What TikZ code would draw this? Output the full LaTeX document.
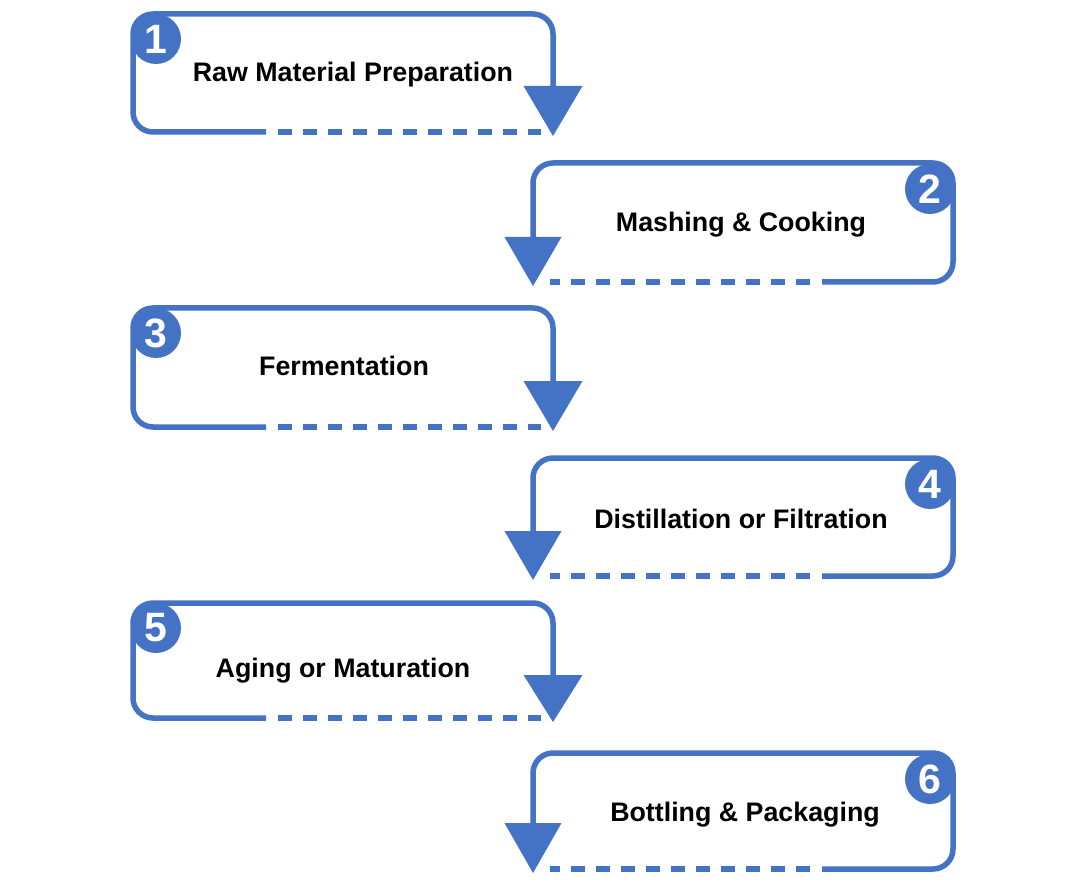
\documentclass[tikz,border=0pt]{standalone}
\usepackage{fontspec}
\setmainfont{Liberation Sans}
\definecolor{stepblue}{RGB}{68,114,196}
\tikzset{
  frame/.style={line width=5.5pt, draw=stepblue, rounded corners=20pt},
  dashpart/.style={line width=5.5pt, draw=stepblue, dash pattern=on 14pt off 11pt},
  headtri/.style={fill=stepblue, draw=none},
  badge/.style={circle, fill=stepblue, minimum size=50pt, inner sep=0pt, text=white,
    font=\fontsize{41}{41}\selectfont\bfseries},
  steptext/.style={anchor=base, inner sep=0pt, text=black,
    font=\fontsize{26.8}{30}\selectfont\bfseries}
}
% #1 name, #2 top, #3 bottom, #4 arrow base, #5 number, #6 text x, #7 text baseline, #8 text
\newcommand\stepLeft[8]{%
  \draw[frame] (266,#3) -- (133,#3) -- (133,#2) -- (553,#2) -- (553,#4);
  \draw[dashpart] (278,#3) -- (541,#3);
  \fill[headtri] (523.5,#4) -- (582.5,#4) -- (553,{#3+4}) -- cycle;
  \node[badge] (#1num) at (156,{#2+25}) {#5};
  \node[steptext] (#1) at (#6,#7) {#8};
}
\newcommand\stepRight[8]{%
  \draw[frame] (822,#3) -- (953,#3) -- (953,#2) -- (533,#2) -- (533,#4);
  \draw[dashpart] (810,#3) -- (550,#3);
  \fill[headtri] (504.5,#4) -- (561.5,#4) -- (533,{#3+4}) -- cycle;
  \node[badge] (#1num) at (930,{#2+26}) {#5};
  \node[steptext] (#1) at (#6,#7) {#8};
}
\begin{document}
\begin{tikzpicture}[x=1pt,y=-1pt]
\useasboundingbox (0,0) rectangle (1085,896);
\fill[white] (0,0) rectangle (1085,896);
\stepLeft{s1}{14}{132}{86}{1}{353}{82}{Raw Material Preparation}
\stepRight{s2}{163}{282}{237}{2}{741}{232}{Mashing \& Cooking}
\stepLeft{s3}{308}{427}{381}{3}{344}{375}{Fermentation}
\stepRight{s4}{458}{576}{531}{4}{741}{528}{Distillation or Filtration}
\stepLeft{s5}{603}{718}{675}{5}{343}{677}{Aging or Maturation}
\stepRight{s6}{753}{869}{823}{6}{745}{821}{Bottling \& Packaging}
\end{tikzpicture}
\end{document}
